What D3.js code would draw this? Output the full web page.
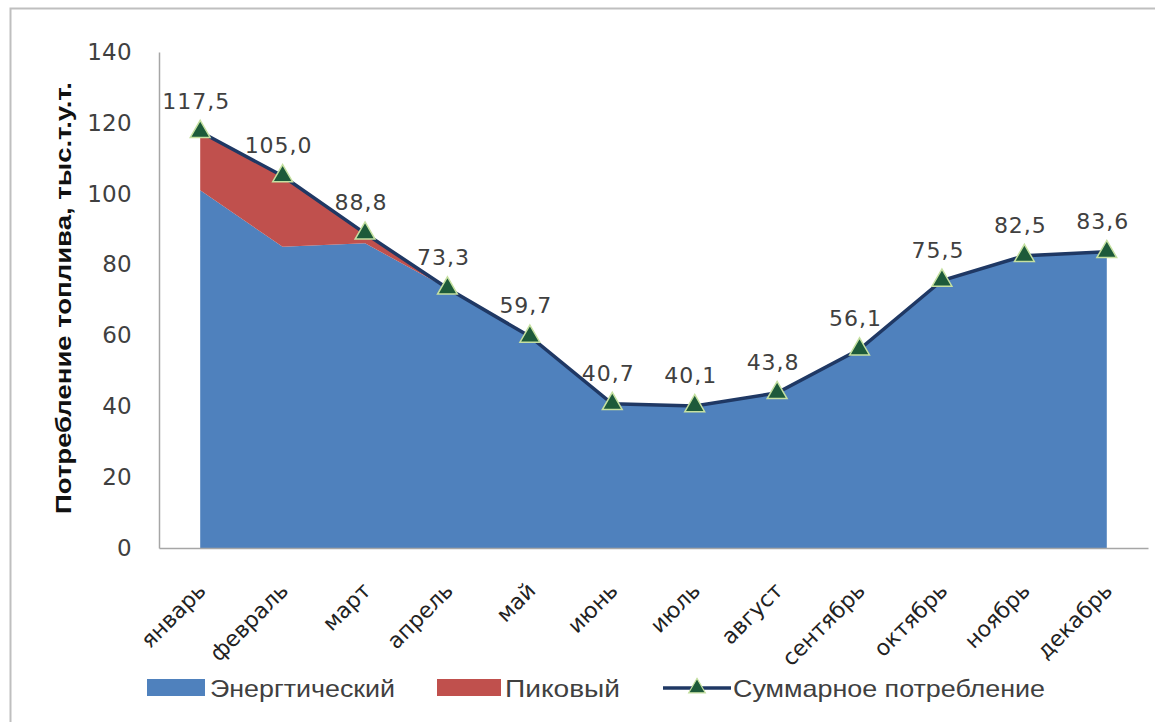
<!DOCTYPE html>
<html><head><meta charset="utf-8">
<script src="https://cdn.jsdelivr.net/npm/d3@7"></script>
<style>body{margin:0;background:#fff}svg{display:block}</style>
</head><body>
<script>
const months = ["январь","февраль","март","апрель","май","июнь","июль","август","сентябрь","октябрь","ноябрь","декабрь"];
const energy = [101, 85, 86, 73.3, 59.7, 40.7, 40.1, 43.8, 56.1, 75.5, 82.5, 83.6];
const peak   = [16.5, 20, 2.8, 0, 0, 0, 0, 0, 0, 0, 0, 0];
const total  = [117.5, 105.0, 88.8, 73.3, 59.7, 40.7, 40.1, 43.8, 56.1, 75.5, 82.5, 83.6];
const labels = ["117,5","105,0","88,8","73,3","59,7","40,7","40,1","43,8","56,1","75,5","82,5","83,6"];
const yTicks = [0,20,40,60,80,100,120,140];
const legendNames = ["Энергтический","Пиковый","Суммарное потребление"];

const W=1155,H=722;
const svg=d3.select("body").append("svg").attr("width",W).attr("height",H);
svg.append("rect").attr("width",W).attr("height",H).attr("fill","#fff");
// outer frame
svg.append("path").attr("d","M10.5,722V8.5H1155").attr("fill","none").attr("stroke","#bfbfbf").attr("stroke-width",2);

const pLeft=159, pRight=1148, pTop=52, pBottom=548;
const x=d3.scaleBand().domain(months).range([pLeft,pRight]);
const cx=m=>x(m)+x.bandwidth()/2;
const y=d3.scaleLinear().domain([0,140]).range([pBottom,pTop]);

const blue="#4f81bd", red="#c0504d", navy="#1f3864";

const areaE=d3.area().x((d,i)=>cx(months[i])).y0(y(0)).y1(d=>y(d));
svg.append("path").datum(energy).attr("d",areaE).attr("fill",blue);
const stacked=energy.map((e,i)=>[e,e+peak[i]]);
const areaP=d3.area().x((d,i)=>cx(months[i])).y0(d=>y(d[0])).y1(d=>y(d[1]));
svg.append("path").datum(stacked).attr("d",areaP).attr("fill",red);

// axes
const yAxis=svg.append("g").attr("transform",`translate(${pLeft},0)`)
  .call(d3.axisLeft(y).tickValues(yTicks).tickSize(0).tickPadding(27));
yAxis.select(".domain").attr("stroke","#a6a6a6").attr("stroke-width",1.5);
yAxis.selectAll("text").attr("font-family","'DejaVu Sans', Verdana, sans-serif").attr("font-size",23)
  .attr("fill","#404040").attr("letter-spacing",0.3);

const xAxis=svg.append("g").attr("transform",`translate(0,${pBottom})`)
  .call(d3.axisBottom(x).tickSize(0).tickPadding(0));
xAxis.select(".domain").attr("stroke","#a6a6a6").attr("stroke-width",1.5);
xAxis.selectAll("text").attr("font-family","'DejaVu Sans', Verdana, sans-serif").attr("font-size",22)
  .attr("fill","#222").attr("text-anchor","end").attr("dy",0)
  .attr("transform","translate(7,44) rotate(-45)");

// total line
const line=d3.line().x((d,i)=>cx(months[i])).y(d=>y(d));
svg.append("path").datum(total).attr("d",line).attr("fill","none").attr("stroke",navy).attr("stroke-width",3.5);

const tri=d3.symbol().type(d3.symbolTriangle).size(170);
svg.selectAll(".mk").data(total).join("path").attr("class","mk")
  .attr("d",tri).attr("transform",(d,i)=>`translate(${cx(months[i])},${y(d)})`)
  .attr("fill","#1d5a3a").attr("stroke","#c5e0a0").attr("stroke-width",1.5);

svg.selectAll(".lbl").data(total).join("text").attr("class","lbl")
  .attr("x",(d,i)=>cx(months[i])-4).attr("y",d=>y(d)-23)
  .attr("text-anchor","middle").attr("font-family","'DejaVu Sans', Verdana, sans-serif")
  .attr("font-size",22).attr("letter-spacing",1).attr("fill","#404040")
  .text((d,i)=>labels[i]);

// y title
svg.append("text").attr("transform","translate(71,298) rotate(-90)")
  .attr("text-anchor","middle").attr("font-family","'Liberation Sans Narrow', 'Arial Narrow', sans-serif")
  .attr("font-weight","bold").attr("font-size",22).attr("fill","#111")
  .attr("textLength",432).attr("lengthAdjust","spacingAndGlyphs")
  .text("Потребление топлива, тыс.т.у.т.");

// legend
const lg=svg.append("g").attr("font-family","'Liberation Sans Narrow', 'Arial Narrow', sans-serif").attr("font-size",24).attr("fill","#404040");
lg.append("rect").attr("x",147).attr("y",679).attr("width",58).attr("height",17).attr("fill",blue);
lg.append("text").attr("x",210).attr("y",697).attr("textLength",185).attr("lengthAdjust","spacingAndGlyphs").text(legendNames[0]);
lg.append("rect").attr("x",437).attr("y",679).attr("width",64).attr("height",17).attr("fill",red);
lg.append("text").attr("x",505).attr("y",697).attr("textLength",115).attr("lengthAdjust","spacingAndGlyphs").text(legendNames[1]);
lg.append("line").attr("x1",663).attr("x2",731).attr("y1",688).attr("y2",688).attr("stroke",navy).attr("stroke-width",3.5);
lg.append("path").attr("d",d3.symbol().type(d3.symbolTriangle).size(120)).attr("transform","translate(697,688)")
  .attr("fill","#1d5a3a").attr("stroke","#c5e0a0").attr("stroke-width",1.2);
lg.append("text").attr("x",733).attr("y",697).attr("textLength",312).attr("lengthAdjust","spacingAndGlyphs").text(legendNames[2]);
</script>
</body></html>
